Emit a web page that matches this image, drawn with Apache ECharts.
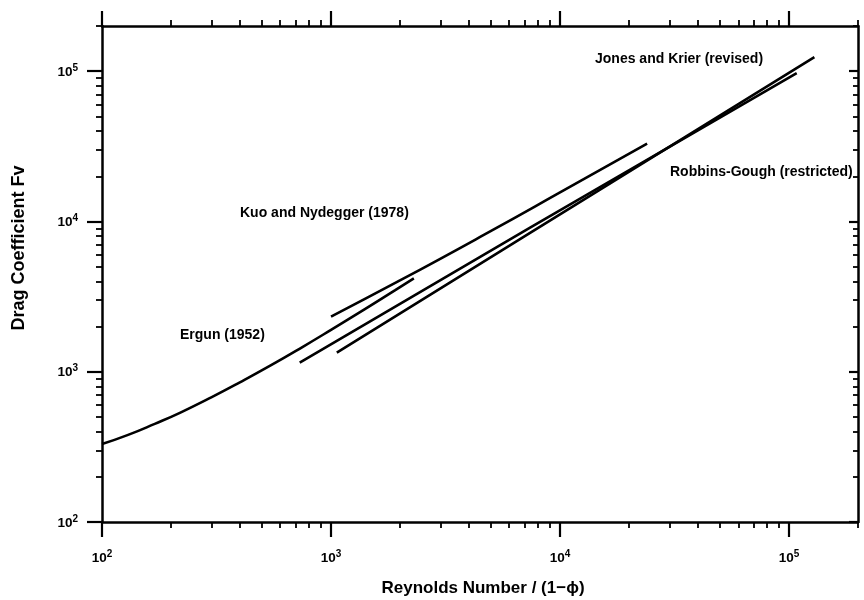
<!DOCTYPE html>
<html><head><meta charset="utf-8">
<script src="https://cdn.jsdelivr.net/npm/echarts@6/dist/echarts.min.js"></script>
<style>html,body{margin:0;padding:0;background:#fff}#c{width:864px;height:600px}</style>
</head><body><div id="c"></div>
<script>
// ---- data ----
const ergunRe = [100, 130, 170, 220, 300, 400, 550, 750, 1000, 1400, 1900, 2300];
const ergunFv = [330, 380, 450, 535, 675, 850, 1110, 1460, 1900, 2600, 3480, 4180];
const kuoRe = [1000, 2000, 5000, 10000, 24000];
const kuoFv = [2330, 4050, 8650, 15600, 33000];
const rgRe = [730, 7400, 108000];
const rgFv = [1150, 9100, 97000];
const jkRe = [1060, 7400, 129000];
const jkFv = [1340, 8400, 124000];
const majorExp = [2, 3, 4, 5];
const minorMult = [2, 3, 4, 5, 6, 7, 8, 9];
const xMin = 100, xMax = 200000, yMin = 100, yMax = 200000;
const labels = [
  {text: 'Jones and Krier (revised)', x: 595, y: 59},
  {text: 'Robbins-Gough (restricted)', x: 670, y: 172},
  {text: 'Kuo and Nydegger (1978)', x: 240, y: 213},
  {text: 'Ergun (1952)', x: 180, y: 335}
];
const xTitle = 'Reynolds Number / (1\u2212\u03d5)';
const yTitle = 'Drag Coefficient Fv';

// ---- helpers ----
const pairs = (a, b) => a.map((v, i) => [v, b[i]]);
const lx = v => Math.log10(v);
const minorVals = (maxV) => {
  const out = [];
  majorExp.forEach(e => minorMult.forEach(m => { const v = m * Math.pow(10, e); if (v <= maxV) out.push(lx(v)); }));
  return out;
};
const FONT = 'Liberation Sans, Arial, Helvetica, sans-serif';
const lineBlack = {color: '#000', width: 2.5};

function tickAxis(kind, position, isMajor, withLabel, inside) {
  const maxV = kind === 'x' ? xMax : yMax;
  const minV = kind === 'x' ? xMin : yMin;
  const vals = isMajor ? majorExp.slice() : minorVals(maxV);
  return {
    type: 'value', position: position, min: lx(minV), max: lx(maxV),
    axisLine: {show: false, onZero: false},
    splitLine: {show: false},
    axisTick: {show: true, inside: !!inside, customValues: vals,
      length: isMajor ? (inside ? 9 : 15) : (inside ? 5 : 6),
      lineStyle: {color: '#000', width: isMajor ? 2.2 : 1.8}},
    axisLabel: withLabel ? {
      show: true, customValues: majorExp.slice(), margin: kind === 'x' ? 27 : 24,
      fontFamily: FONT, fontWeight: 'bold', color: '#000', fontSize: 13.5,
      formatter: v => '{b|10}{s|' + Math.round(v) + '}',
      rich: {
        b: {fontFamily: FONT, fontWeight: 'bold', fontSize: 13.5, lineHeight: 16, verticalAlign: 'bottom', color: '#000'},
        s: {fontFamily: FONT, fontWeight: 'bold', fontSize: 10, lineHeight: 11, verticalAlign: 'top', color: '#000'}
      }
    } : {show: false}
  };
}

const option = {
  animation: false,
  backgroundColor: '#fff',
  grid: {left: 102, right: 6, top: 26, bottom: 78, containLabel: false},
  xAxis: [
    {type: 'log', logBase: 10, min: xMin, max: xMax, position: 'bottom',
     axisLine: {show: true, onZero: false, lineStyle: lineBlack},
     axisTick: {show: false}, axisLabel: {show: false}, splitLine: {show: false}, minorTick: {show: false}},
    tickAxis('x', 'bottom', true, true, false),
    tickAxis('x', 'bottom', false, false, false),
    Object.assign(tickAxis('x', 'top', true, false, false), {axisLine: {show: true, onZero: false, lineStyle: lineBlack}}),
    tickAxis('x', 'top', false, false, false)
  ],
  yAxis: [
    {type: 'log', logBase: 10, min: yMin, max: yMax, position: 'left',
     axisLine: {show: true, onZero: false, lineStyle: lineBlack},
     axisTick: {show: false}, axisLabel: {show: false}, splitLine: {show: false}, minorTick: {show: false}},
    tickAxis('y', 'left', true, true, false),
    tickAxis('y', 'left', false, false, false),
    Object.assign(tickAxis('y', 'right', true, false, true), {axisLine: {show: true, onZero: false, lineStyle: lineBlack}}),
    tickAxis('y', 'right', false, false, true)
  ],
  series: [
    {name: 'Ergun (1952)', data: pairs(ergunRe, ergunFv)},
    {name: 'Kuo and Nydegger (1978)', data: pairs(kuoRe, kuoFv)},
    {name: 'Robbins-Gough (restricted)', data: pairs(rgRe, rgFv)},
    {name: 'Jones and Krier (revised)', data: pairs(jkRe, jkFv)}
  ].map(s => Object.assign({
    type: 'line', xAxisIndex: 0, yAxisIndex: 0, symbol: 'none', smooth: true,
    lineStyle: {color: '#000', width: 2.6}, z: 5
  }, s)),
  graphic: labels.map(l => ({
    type: 'text', x: l.x, y: l.y, z: 10,
    style: {text: l.text, fill: '#000', font: 'bold 14px ' + FONT, textAlign: 'left', textVerticalAlign: 'middle'}
  })).concat([
    {type: 'text', x: 483, y: 588, z: 10,
     style: {text: xTitle, fill: '#000', font: 'bold 17px ' + FONT, textAlign: 'center', textVerticalAlign: 'middle'}},
    {type: 'text', x: 19, y: 248, rotation: Math.PI / 2, z: 10,
     style: {text: yTitle, fill: '#000', font: 'bold 18px ' + FONT, textAlign: 'center', textVerticalAlign: 'middle'}}
  ])
};
const chart = echarts.init(document.getElementById('c'), null, {renderer: 'canvas'});
chart.setOption(option);
</script></body></html>
